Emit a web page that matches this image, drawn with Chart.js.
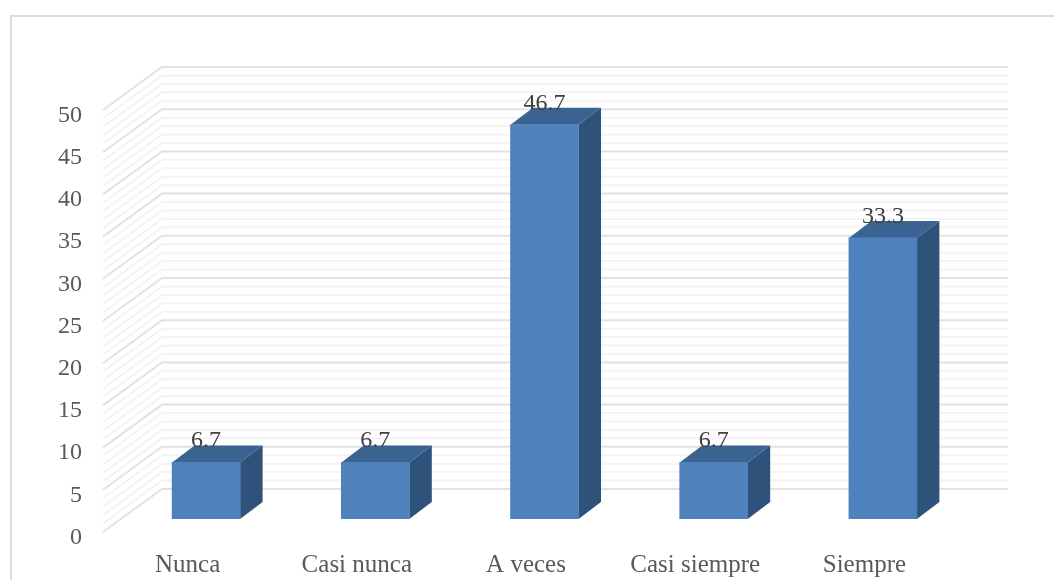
<!DOCTYPE html>
<html>
<head>
<meta charset="utf-8">
<style>
  html, body { margin: 0; padding: 0; background: #fff; }
  #wrap { position: relative; width: 1054px; height: 580px; overflow: hidden; }
  #frame { position: absolute; left: 10px; top: 15px; width: 1060px; height: 600px; border: 2px solid #dcdcdc; box-sizing: border-box; }
  canvas { position: absolute; left: 0; top: 0; }
</style>
<script src="https://cdn.jsdelivr.net/npm/chart.js@4/dist/chart.umd.min.js"></script>
</head>
<body>
<div id="wrap">
  <div id="frame"></div>
  <canvas id="myChart" width="1054" height="580"></canvas>
</div>
<script>
const categories = ['Nunca', 'Casi nunca', 'A veces', 'Casi siempre', 'Siempre'];
const percentages = [6.7, 6.7, 46.7, 6.7, 33.3];
const tickLabels = [0, 5, 10, 15, 20, 25, 30, 35, 40, 45, 50];

// floor depth of the fake 3d box, and where the bars sit inside it
const wallDx = 59, wallDy = 43;
const barDx = 18.5, barDy = 13;
const sideDx = 22.5, sideDy = 17;

const fontFamily = '"Liberation Serif", serif';

const box3d = {
  id: 'box3d',
  // back wall and side wall lines, one per tick
  beforeDatasetsDraw(chart) {
    const { ctx, scales, chartArea } = chart;
    ctx.save();
    scales.y.ticks.forEach((t) => {
      const y = scales.y.getPixelForValue(t.value);
      const major = t.value % 5 === 0;
      ctx.beginPath();
      ctx.moveTo(chartArea.left, y);
      ctx.lineTo(chartArea.left + wallDx, y - wallDy);
      ctx.lineTo(chartArea.right + wallDx, y - wallDy);
      ctx.strokeStyle = major ? '#e2e2e2' : '#f4f4f4';
      ctx.lineWidth = 2;
      ctx.stroke();
    });
    ctx.restore();
  },
  // side and top faces go under the front face, which is the real bar moved back
  beforeDatasetDraw(chart, args) {
    const { ctx } = chart;
    ctx.save();
    ctx.translate(barDx, -barDy);
    chart.getDatasetMeta(args.index).data.forEach((bar) => {
      const l = bar.x - bar.width / 2, r = bar.x + bar.width / 2;
      ctx.fillStyle = '#2f527b';
      ctx.beginPath();
      ctx.moveTo(r, bar.y);
      ctx.lineTo(r + sideDx, bar.y - sideDy);
      ctx.lineTo(r + sideDx, bar.base - sideDy);
      ctx.lineTo(r, bar.base);
      ctx.closePath();
      ctx.fill();
      ctx.fillStyle = '#3b6391';
      ctx.beginPath();
      ctx.moveTo(l, bar.y);
      ctx.lineTo(l + sideDx, bar.y - sideDy);
      ctx.lineTo(r + sideDx, bar.y - sideDy);
      ctx.lineTo(r, bar.y);
      ctx.closePath();
      ctx.fill();
    });
  },
  afterDatasetDraw(chart, args) {
    const { ctx } = chart;
    ctx.fillStyle = '#404040';
    ctx.font = '24px ' + fontFamily;
    ctx.textAlign = 'center';
    ctx.textBaseline = 'alphabetic';
    chart.getDatasetMeta(args.index).data.forEach((bar, i) => {
      ctx.fillText(percentages[i].toFixed(1), bar.x, bar.y - sideDy + 2);
    });
    ctx.restore();
  }
};

new Chart(document.getElementById('myChart'), {
  type: 'bar',
  data: {
    labels: categories,
    datasets: [{
      data: percentages,
      backgroundColor: '#4f81bd',
      borderWidth: 0,
      barThickness: 68
    }]
  },
  plugins: [box3d],
  options: {
    responsive: false,
    animation: false,
    layout: { padding: { left: 0, right: 105, top: 110, bottom: 0 } },
    plugins: { legend: { display: false }, tooltip: { enabled: false } },
    scales: {
      x: {
        afterFit(scale) { scale.height = 48; },
        grid: { display: false, drawTicks: false },
        border: { display: false },
        ticks: { color: '#595959', font: { family: fontFamily, size: 25 }, padding: 18, maxRotation: 0, autoSkip: false }
      },
      y: {
        position: 'left',
        min: 0,
        max: 50,
        afterFit(scale) { scale.width = 103; },
        grid: { display: false, drawTicks: false },
        border: { display: false },
        ticks: {
          stepSize: 1,
          autoSkip: false,
          color: '#595959',
          padding: 21,
          font: { family: fontFamily, size: 24, lineHeight: '11px' },
          // empty first line pushes the number a little below its tick
          callback: (v) => (tickLabels.includes(v) ? ['', String(v)] : '')
        }
      }
    }
  }
});
</script>
</body>
</html>
